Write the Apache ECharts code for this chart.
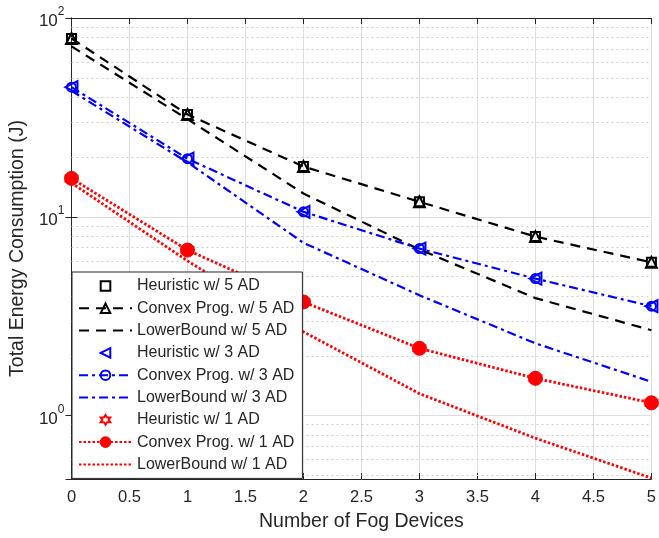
<!DOCTYPE html>
<html>
<head>
<meta charset="utf-8">
<script src="https://cdn.jsdelivr.net/npm/echarts@6/dist/echarts.min.js"></script>
<style>
  html, body { margin: 0; padding: 0; background: #fff; }
  #chart { width: 659px; height: 538px; }
</style>
</head>
<body>
<div id="chart"></div>
<script>
// number of fog devices on the x axis
const fogDevices = [0, 1, 2, 3, 4, 5];

// energy (J)
const heuristic5 = [78.9, 32.7, 17.9, 11.9, 7.95, 5.9];
const convex5 = [78.9, 32.7, 17.9, 11.9, 7.95, 5.9];
const lower5 = [72, 31.0, 13.1, 6.85, 3.9, 2.69];

const heuristic3 = [44.9, 19.6, 10.6, 6.92, 4.89, 3.55];
const convex3 = [44.9, 19.6, 10.6, 6.92, 4.89, 3.55];
const lower3 = [43, 18.8, 7.4, 4.03, 2.31, 1.48];

const heuristic1 = [15.6, 6.8, 3.73, 2.18, 1.54, 1.16];
const convex1 = [15.6, 6.8, 3.73, 2.18, 1.54, 1.16];
const lower1 = [14.8, 6.0, 2.64, 1.29, 0.77, 0.485];

// dotted minor grid of the log axis
const minorGrid = [0.5, 0.6, 0.7, 0.8, 0.9, 2, 3, 4, 5, 6, 7, 8, 9, 20, 30, 40, 50, 60, 70, 80, 90];

const FONT = "'Liberation Sans', Arial, sans-serif";
const TXT = "#262626";
const hexagram = "path://M0,-10L2.89,-5L8.66,-5L5.77,0L8.66,5L2.89,5L0,10L-2.89,5L-8.66,5L-5.77,0L-8.66,-5L-2.89,-5Z";

const pairs = (ys) => fogDevices.map((x, i) => [x, ys[i]]);

function markers(name, ys, color, symbol, size, rotate) {
  return {
    name,
    type: "line",
    data: pairs(ys),
    symbol,
    symbolSize: size,
    symbolRotate: rotate || 0,
    showSymbol: true,
    itemStyle: { color: "rgba(0,0,0,0)", borderColor: color, borderWidth: 2 },
    lineStyle: { opacity: 0, color },
    z: 3,
  };
}

function curve(name, ys, color, dash, width, symbol, size, filled) {
  return {
    name,
    type: "line",
    data: pairs(ys),
    symbol: symbol || "none",
    symbolSize: size || 0,
    showSymbol: !!symbol,
    itemStyle: filled
      ? { color, borderColor: color, borderWidth: 1 }
      : { color: "rgba(0,0,0,0)", borderColor: color, borderWidth: 2 },
    lineStyle: { color, width, type: dash },
    z: 4,
  };
}

const dashed = [10, 7];
const dashDot = [9, 4, 3, 4];
const dotted = [2.5, 2];

const series = [
  markers("Heuristic w/ 5 AD", heuristic5, "#000", "rect", 9),
  curve("Convex Prog. w/ 5 AD", convex5, "#000", dashed, 2.2, "triangle", 11),
  curve("LowerBound w/ 5 AD", lower5, "#000", dashed, 2.2),
  markers("Heuristic w/ 3 AD", heuristic3, "#0000ff", "triangle", 12, 90),
  curve("Convex Prog. w/ 3 AD", convex3, "#0000ff", dashDot, 2.2, "circle", 9),
  curve("LowerBound w/ 3 AD", lower3, "#0000ff", dashDot, 2.2),
  markers("Heuristic w/ 1 AD", heuristic1, "#ff0000", hexagram, 11),
  curve("Convex Prog. w/ 1 AD", convex1, "#ff0000", dotted, 2.8, "circle", 14, true),
  curve("LowerBound w/ 1 AD", lower1, "#ff0000", dotted, 2.8),
];

series[0].markLine = {
  silent: true,
  symbol: "none",
  label: { show: false },
  lineStyle: { color: "#cfcfcf", type: [2, 3], width: 1 },
  data: minorGrid.map((v) => ({ yAxis: v })),
  z: 1,
};

const legendData = series.map((s) => {
  const item = { name: s.name };
  if (s.name.startsWith("LowerBound")) item.itemStyle = { opacity: 0, borderWidth: 0 };
  return item;
});

const logLabel = (v) => {
  const e = Math.round(Math.log10(v));
  if (Math.abs(Math.log10(v) - e) > 1e-6) return "";
  return "{b|10}{s|" + e + "}";
};

const option = {
  backgroundColor: "#fff",
  animation: false,
  grid: { left: 71, right: 2, top: 18, bottom: 59 },
  legend: {
    orient: "vertical",
    left: 72,
    top: 272,
    padding: [5, 8, 5, 6],
    itemWidth: 53,
    itemHeight: 12,
    itemGap: 4.3,
    backgroundColor: "#fff",
    borderColor: TXT,
    borderWidth: 1,
    selectedMode: false,
    textStyle: { fontFamily: FONT, fontSize: 16, color: TXT, lineHeight: 18 },
    data: legendData,
    z: 10,
  },
  xAxis: [
    {
      type: "value",
      min: 0,
      max: 5,
      interval: 0.5,
      name: "Number of Fog Devices",
      nameLocation: "middle",
      nameGap: 33,
      nameTextStyle: { fontFamily: FONT, fontSize: 19.5, color: TXT },
      axisLine: { lineStyle: { color: TXT, width: 1 } },
      axisTick: { inside: true, length: 6, lineStyle: { color: TXT } },
      axisLabel: { fontFamily: FONT, fontSize: 16.5, color: TXT, margin: 10 },
      splitLine: { show: true, lineStyle: { color: "#dedede", width: 1 } },
    },
    {
      type: "value",
      position: "top",
      min: 0,
      max: 5,
      interval: 0.5,
      axisLine: { lineStyle: { color: TXT, width: 1 } },
      axisTick: { inside: true, length: 6, lineStyle: { color: TXT } },
      axisLabel: { show: false },
      splitLine: { show: false },
    },
  ],
  yAxis: [
    {
      type: "log",
      logBase: 10,
      min: 0.48,
      max: 100,
      name: "Total Energy Consumption (J)",
      nameLocation: "middle",
      nameGap: 41,
      nameTextStyle: { fontFamily: FONT, fontSize: 19.5, color: TXT },
      axisLine: { show: true, lineStyle: { color: TXT, width: 1 } },
      axisTick: { inside: true, length: 6, lineStyle: { color: TXT } },
      axisLabel: {
        formatter: logLabel,
        margin: 7,
        color: TXT,
        rich: {
          b: { fontFamily: FONT, fontSize: 17, color: TXT, verticalAlign: "bottom", lineHeight: 24 },
          s: { fontFamily: FONT, fontSize: 12, color: TXT, verticalAlign: "top", lineHeight: 24 },
        },
      },
      splitLine: { show: true, lineStyle: { color: "#dedede", width: 1 } },
    },
    {
      type: "log",
      logBase: 10,
      min: 0.48,
      max: 100,
      position: "right",
      axisLine: { show: true, lineStyle: { color: TXT, width: 1 } },
      axisTick: { inside: true, length: 6, lineStyle: { color: TXT } },
      axisLabel: { show: false },
      splitLine: { show: false },
    },
  ],
  series,
};

const chart = echarts.init(document.getElementById("chart"));
chart.setOption(option);
</script>
</body>
</html>
